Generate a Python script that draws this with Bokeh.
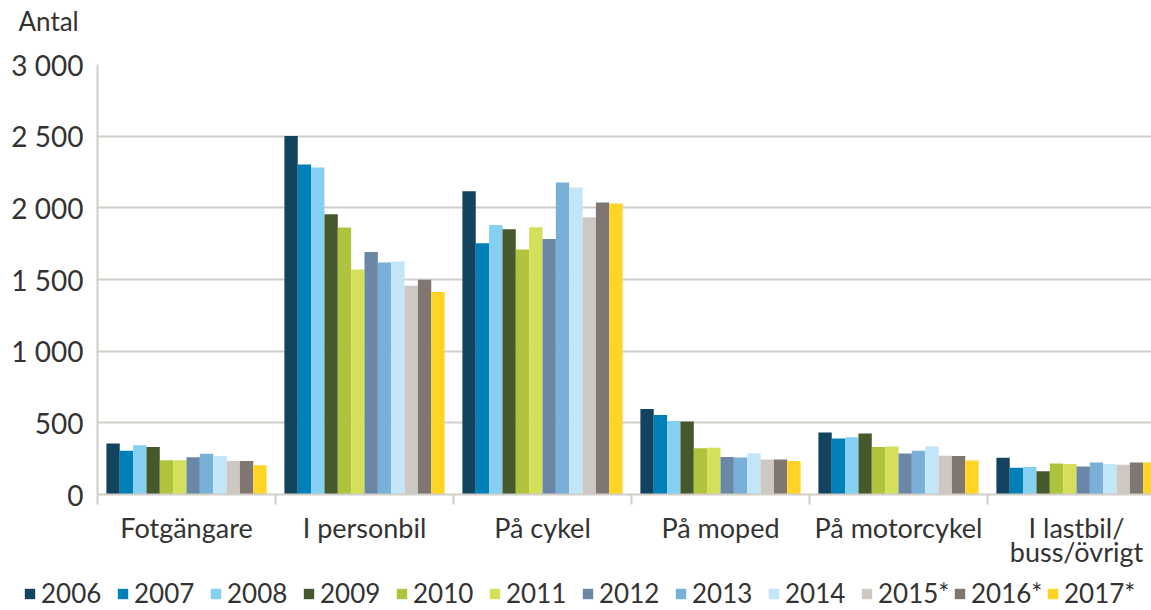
from bokeh.plotting import figure
from bokeh.models import Range1d, FixedTicker, Legend, LegendItem, LinearAxis, Title
from bokeh.layouts import column
from bokeh.embed import file_html
from bokeh.resources import INLINE

categories = ["Fotgängare", "I personbil", "På cykel", "På moped", "På motorcykel", "I lastbil/"]
categories_line2 = ["", "", "", "", "", "buss/övrigt"]
years = ["2006", "2007", "2008", "2009", "2010", "2011", "2012", "2013", "2014", "2015*", "2016*", "2017*"]
colors = ["#12445f", "#0080b9", "#85d0f0", "#46592d", "#afc33c", "#d4e05a",
          "#6a87a5", "#78b0d7", "#c2e5f7", "#cdc8c2", "#807772", "#ffd424"]

v2006 = [355, 2501, 2115, 597, 432, 256]
v2007 = [306, 2302, 1753, 555, 391, 186]
v2008 = [343, 2282, 1880, 513, 400, 191]
v2009 = [332, 1955, 1850, 509, 425, 163]
v2010 = [239, 1862, 1709, 323, 332, 217]
v2011 = [239, 1570, 1864, 326, 335, 212]
v2012 = [260, 1691, 1783, 261, 286, 196]
v2013 = [285, 1619, 2177, 258, 305, 224]
v2014 = [269, 1626, 2142, 288, 335, 212]
v2015 = [234, 1456, 1934, 245, 270, 207]
v2016 = [234, 1498, 2038, 245, 268, 224]
v2017 = [204, 1413, 2031, 233, 238, 224]
series = [v2006, v2007, v2008, v2009, v2010, v2011, v2012, v2013, v2014, v2015, v2016, v2017]

y_ticks = [0, 500, 1000, 1500, 2000, 2500, 3000]
y_tick_labels = ["0", "500", "1 000", "1 500", "2 000", "2 500", "3 000"]

FONT = "Lato"
TXT = "#333333"
GRID = "#d2cec8"

p = figure(width=1151, height=570, output_backend="svg", toolbar_location=None,
           x_range=Range1d(0, 1054 / 178), y_range=Range1d(0, 3000),
           min_border_left=97, min_border_right=0, min_border_top=64, min_border_bottom=74)
p.frame_align = False
p.outline_line_color = None
p.background_fill_color = "white"
p.border_fill_color = "white"

n = len(years)
bw = 0.9 / n
renderers = []
for j, (yr, col, vals) in enumerate(zip(years, colors, series)):
    xs = [i + 0.05 + (j + 0.5) * bw for i in range(len(categories))]
    r = p.vbar(x=xs, top=vals, width=bw, bottom=0, fill_color=col, line_color=None)
    renderers.append(r)

# y axis
p.yaxis.ticker = FixedTicker(ticks=y_ticks)
p.yaxis.major_label_overrides = {t: l for t, l in zip(y_ticks, y_tick_labels)}
p.yaxis.major_tick_line_color = None
p.yaxis.minor_tick_line_color = None
p.yaxis.major_tick_out = 0
p.yaxis.major_tick_in = 0
p.yaxis.axis_line_color = GRID
p.yaxis.axis_line_width = 2
p.yaxis.major_label_standoff = 14
p.yaxis.major_label_text_font = FONT
p.yaxis.major_label_text_font_size = "28px"
p.yaxis.major_label_text_color = TXT

# x axis
centers = [i + 0.5 for i in range(len(categories))]
bounds = [i for i in range(len(categories) + 1)]
p.xaxis.ticker = FixedTicker(ticks=centers, minor_ticks=bounds)
p.xaxis.major_label_overrides = {c: l for c, l in zip(centers, categories)}
p.xaxis.major_tick_line_color = None
p.xaxis.major_tick_out = 0
p.xaxis.major_tick_in = 0
p.xaxis.minor_tick_line_color = GRID
p.xaxis.minor_tick_line_width = 2
p.xaxis.minor_tick_out = 10
p.xaxis.minor_tick_in = 0
p.xaxis.axis_line_color = GRID
p.xaxis.axis_line_width = 2
p.xaxis.major_label_standoff = 6
p.xaxis.major_label_text_font = FONT
p.xaxis.major_label_text_font_size = "27px"
p.xaxis.major_label_text_color = TXT

# second line of category labels
ax2 = LinearAxis(ticker=FixedTicker(ticks=centers, minor_ticks=[]),
                 major_label_overrides={c: l for c, l in zip(centers, categories_line2)},
                 axis_line_color=None, major_tick_line_color=None, minor_tick_line_color=None,
                 major_tick_out=0, major_tick_in=0, major_label_standoff=-12,
                 major_label_text_font=FONT, major_label_text_font_size="27px",
                 major_label_text_color=TXT)
p.add_layout(ax2, "below")

p.xgrid.grid_line_color = None
p.ygrid.ticker = FixedTicker(ticks=y_ticks)
p.ygrid.grid_line_color = GRID
p.ygrid.grid_line_width = 2

# titles: spacer (closest to frame) and "Antal" above it
p.title.text = ""
spacer = Title(text=" ", text_font=FONT, text_font_size="20px", standoff=0,
               vertical_align="top", align="left")
antal = Title(text="Antal", text_font=FONT, text_font_size="26px", text_font_style="normal",
              text_color=TXT, align="left", offset=-79, vertical_align="top", standoff=0)
p.add_layout(spacer, "above")
p.add_layout(antal, "above")

# legend figure
lf = figure(width=1151, height=40, output_backend="svg", toolbar_location=None,
            x_range=Range1d(0, 1), y_range=Range1d(0, 1),
            x_axis_location=None, y_axis_location=None,
            min_border_left=0, min_border_right=0, min_border_top=0, min_border_bottom=0)
lf.frame_align = False
lf.grid.visible = False
lf.outline_line_color = None
leg_renderers = []
for col in colors:
    leg_renderers.append(lf.vbar(x=[0.5], top=[0], bottom=[0], width=0.01,
                                 fill_color=col, line_color=None))

legend = Legend(items=[LegendItem(label=y, renderers=[r]) for y, r in zip(years, leg_renderers)],
                orientation="horizontal", location=(23, 1),
                glyph_width=13, glyph_height=13, label_standoff=5, label_width=75,
                spacing=0, padding=0, margin=0,
                border_line_color=None, background_fill_alpha=0,
                label_text_font=FONT, label_text_font_size="26px", label_text_color=TXT)
lf.add_layout(legend, "center")

layout = column(p, lf, spacing=0)
open("out.html", "w").write(file_html(layout, INLINE))
